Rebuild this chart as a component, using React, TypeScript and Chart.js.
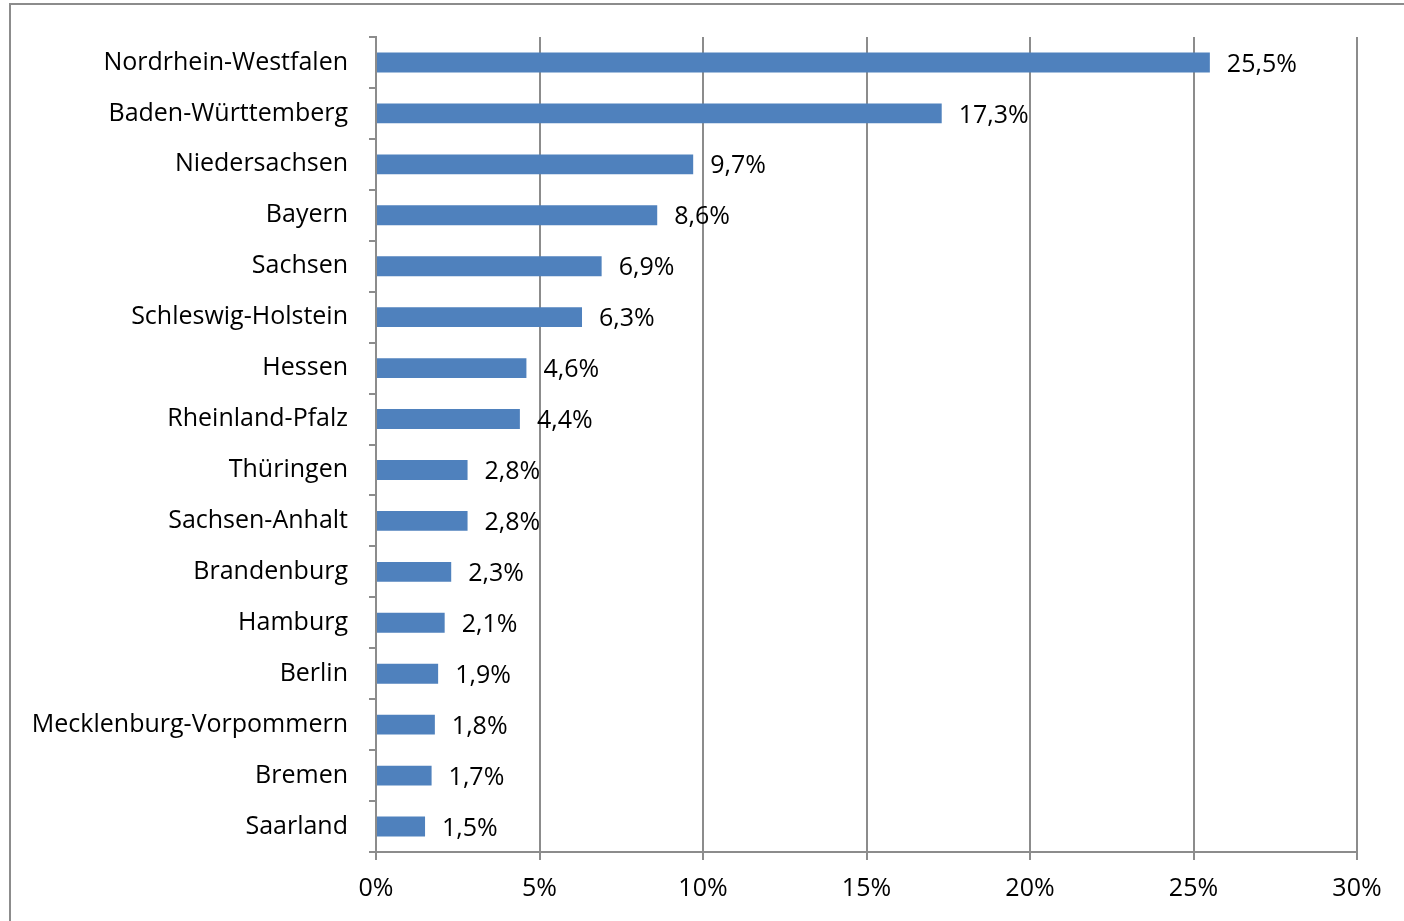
import React, { useEffect, useRef } from "react";
import { Chart, registerables } from "chart.js";

Chart.register(...registerables);

const categories = [
  "Nordrhein-Westfalen",
  "Baden-Württemberg",
  "Niedersachsen",
  "Bayern",
  "Sachsen",
  "Schleswig-Holstein",
  "Hessen",
  "Rheinland-Pfalz",
  "Thüringen",
  "Sachsen-Anhalt",
  "Brandenburg",
  "Hamburg",
  "Berlin",
  "Mecklenburg-Vorpommern",
  "Bremen",
  "Saarland",
];

const shares = [25.5, 17.3, 9.7, 8.6, 6.9, 6.3, 4.6, 4.4, 2.8, 2.8, 2.3, 2.1, 1.9, 1.8, 1.7, 1.5];

const xTicks = [0, 5, 10, 15, 20, 25, 30];

const FONT = "'Open Sans', 'Noto Sans', sans-serif";
const FONT_SIZE = 25;
const GRID = "#8c8c8c";

const formatPct = (v: number) => v.toFixed(1).replace(".", ",") + "%";

const valueLabels = {
  id: "valueLabels",
  afterDatasetsDraw(chart: any) {
    const ctx = chart.ctx;
    const meta = chart.getDatasetMeta(0);
    ctx.save();
    ctx.font = `${FONT_SIZE}px ${FONT}`;
    ctx.fillStyle = "#000";
    ctx.textAlign = "left";
    ctx.textBaseline = "middle";
    meta.data.forEach((bar: any, i: number) => {
      ctx.fillText(formatPct(shares[i]), bar.x + 17, bar.y + 2);
    });
    ctx.restore();
  },
};

export default function App() {
  const ref = useRef<HTMLCanvasElement>(null);
  useEffect(() => {
    if (!ref.current) return;
    const chart = new Chart(ref.current, {
      type: "bar",
      data: {
        labels: categories,
        datasets: [
          {
            data: shares,
            backgroundColor: "#4f81bd",
            borderWidth: 0,
            barPercentage: 0.39,
            categoryPercentage: 1,
          },
        ],
      },
      options: {
        indexAxis: "y",
        responsive: false,
        animation: false,
        layout: { padding: { left: 0, right: 47, top: 37, bottom: 0 } },
        plugins: { legend: { display: false }, tooltip: { enabled: false } },
        scales: {
          x: {
            min: 0,
            max: 30,
            afterBuildTicks: (axis: any) => {
              axis.ticks = xTicks.map((v) => ({ value: v }));
            },
            afterFit: (axis: any) => {
              axis.height = 69;
            },
            grid: { color: GRID, lineWidth: 2, tickLength: 8, drawTicks: true },
            border: { display: true, color: GRID, width: 2 },
            ticks: {
              color: "#000",
              font: { family: FONT, size: FONT_SIZE },
              padding: 14,
              maxRotation: 0,
              callback: (v: any) => `${v}%`,
            },
          },
          y: {
            afterFit: (axis: any) => {
              axis.width = 376;
            },
            grid: { display: true, drawOnChartArea: false, offset: true, color: GRID, lineWidth: 2, tickLength: 7 },
            border: { display: true, color: GRID, width: 2 },
            ticks: {
              color: "#000",
              font: { family: FONT, size: FONT_SIZE },
              padding: 21,
              autoSkip: false,
            },
          },
        },
      },
      plugins: [valueLabels],
    });
    return () => chart.destroy();
  }, []);

  return (
    <div style={{ position: "fixed", left: 0, top: 0, width: 1404, height: 921, overflow: "hidden", background: "#fff" }}>
      <div
        style={{
          position: "absolute",
          left: 9,
          top: 3,
          width: 2000,
          height: 2000,
          border: `2px solid ${GRID}`,
        }}
      />
      <canvas ref={ref} width={1404} height={921} style={{ position: "absolute", left: 0, top: 0 }} />
    </div>
  );
}
